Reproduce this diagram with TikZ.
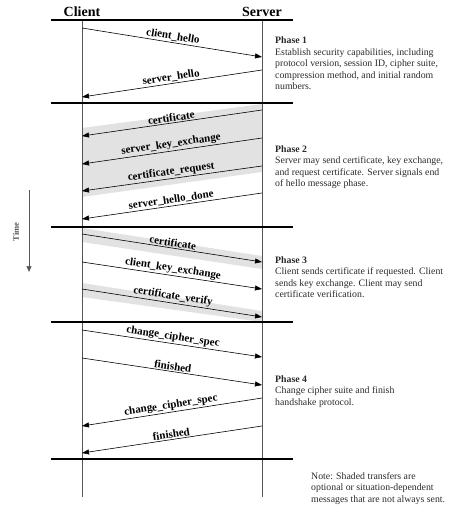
\documentclass[tikz,border=0pt]{standalone}
\usepackage{fontspec}
\setmainfont{Liberation Serif}
\usetikzlibrary{arrows.meta}
\definecolor{shadegray}{HTML}{E2E2E2}
\definecolor{lifegray}{HTML}{555555}
\definecolor{txtgray}{HTML}{2A2A2A}
\begin{document}
\begin{tikzpicture}[x=1pt,y=-1pt,
  msg/.style={draw=black, line width=0.6pt, -{Triangle[length=7pt,width=5pt]}},
  msglabel/.style={font=\fontsize{11}{12}\selectfont\bfseries, sloped, above, inner sep=1.2pt, midway},
  sep/.style={line width=1.8pt, black},
  life/.style={line width=0.8pt, lifegray},
  head/.style={font=\fontsize{14}{16}\selectfont\bfseries},
  phasetext/.style={anchor=north west, align=left, inner sep=0pt, text=txtgray,
     font=\fontsize{9.8}{11.5}\selectfont},
  shadeband/.style={fill=shadegray}]
\useasboundingbox (0,0) rectangle (449,508);

% headers
\node[head] (client) at (82,12) {Client};
\node[head] (server) at (262,12) {Server};

% shaded regions
\fill[shadeband] (262,104) -- (262,172) -- (82,197) -- (82,128) -- cycle;
\fill[shadeband] (82,228) -- (262,256) -- (262,269) -- (82,242) -- cycle;
\fill[shadeband] (82,283) -- (262,311) -- (262,322) -- (82,297) -- cycle;

% lifelines
\coordinate (ctop) at (82,20);
\coordinate (cbot) at (82,497);
\coordinate (stop) at (262,20);
\coordinate (sbot) at (262,497);
\draw[life] (ctop) -- (cbot);
\draw[life] (stop) -- (sbot);

% separators
\foreach \y/\n in {20/a,103/b,227/c,322/d,459/e}{
  \coordinate (l\n) at (51,\y);
  \coordinate (r\n) at (293,\y);
  \draw[sep] (l\n) -- (r\n);
}

% Phase 1
\coordinate (c1) at (82,28);  \coordinate (s1) at (262,57);
\coordinate (s2) at (262,70); \coordinate (c2) at (82,97);
\draw[msg] (c1) -- node[msglabel]{client\_hello} (s1);
\draw[msg] (s2) -- node[msglabel]{server\_hello} (c2);

% Phase 2
\coordinate (s3) at (262,110); \coordinate (c3) at (82,136);
\coordinate (s4) at (262,138); \coordinate (c4) at (82,164);
\coordinate (s5) at (262,166); \coordinate (c5) at (82,191);
\coordinate (s6) at (262,193); \coordinate (c6) at (82,219);
\draw[msg] (s3) -- node[msglabel]{certificate} (c3);
\draw[msg] (s4) -- node[msglabel]{server\_key\_exchange} (c4);
\draw[msg] (s5) -- node[msglabel]{certificate\_request} (c5);
\draw[msg] (s6) -- node[msglabel]{server\_hello\_done} (c6);

% Phase 3
\coordinate (c7) at (82,234); \coordinate (s7) at (262,262);
\coordinate (c8) at (82,262); \coordinate (s8) at (262,289);
\coordinate (c9) at (82,289); \coordinate (s9) at (262,317);
\draw[msg] (c7) -- node[msglabel]{certificate} (s7);
\draw[msg] (c8) -- node[msglabel]{client\_key\_exchange} (s8);
\draw[msg] (c9) -- node[msglabel]{certificate\_verify} (s9);

% Phase 4
\coordinate (c10) at (82,330); \coordinate (s10) at (262,357);
\coordinate (c11) at (82,358); \coordinate (s11) at (262,385);
\coordinate (s12) at (262,398); \coordinate (c12) at (82,426);
\coordinate (s13) at (262,426); \coordinate (c13) at (82,453);
\draw[msg] (c10) -- node[msglabel]{change\_cipher\_spec} (s10);
\draw[msg] (c11) -- node[msglabel]{finished} (s11);
\draw[msg] (s12) -- node[msglabel]{change\_cipher\_spec} (c12);
\draw[msg] (s13) -- node[msglabel]{finished} (c13);

% Time arrow
\coordinate (t1) at (29,190);
\coordinate (t2) at (29,272);
\draw[lifegray, line width=0.7pt, -{Triangle[length=6pt,width=5pt]}] (t1) -- (t2);
\node[rotate=90, font=\fontsize{8.5}{9}\selectfont\bfseries, text=lifegray] (time) at (16,232) {Time};

% phase descriptions
\node[phasetext] (p1) at (275,37) {\textbf{Phase 1}\\Establish security capabilities, including\\protocol version, session ID, cipher suite,\\compression method, and initial random\\numbers.};
\node[phasetext] (p2) at (275,145) {\textbf{Phase 2}\\Server may send certificate, key exchange,\\and request certificate. Server signals end\\of hello message phase.};
\node[phasetext] (p3) at (275,256) {\textbf{Phase 3}\\Client sends certificate if requested. Client\\sends key exchange. Client may send\\certificate verification.};
\node[phasetext] (p4) at (275,375) {\textbf{Phase 4}\\Change cipher suite and finish\\handshake protocol.};
\node[phasetext] (note) at (311,472) {Note: Shaded transfers are\\optional or situation-dependent\\messages that are not always sent.};
\end{tikzpicture}
\end{document}
